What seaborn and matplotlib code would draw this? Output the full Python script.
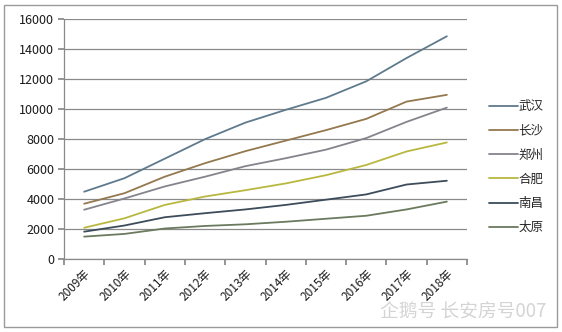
import matplotlib
matplotlib.use("Agg")
import matplotlib.pyplot as plt
import seaborn as sns
import pandas as pd
from matplotlib.patches import Rectangle

years = ["2009年", "2010年", "2011年", "2012年", "2013年", "2014年", "2015年", "2016年", "2017年", "2018年"]
cities = ["武汉", "长沙", "郑州", "合肥", "南昌", "太原"]
wuhan = [4500, 5400, 6700, 8000, 9100, 9950, 10750, 11850, 13400, 14850]
changsha = [3700, 4400, 5500, 6400, 7200, 7900, 8600, 9350, 10500, 10950]
zhengzhou = [3300, 4050, 4850, 5500, 6200, 6730, 7300, 8070, 9150, 10100]
hefei = [2100, 2730, 3620, 4180, 4600, 5050, 5600, 6280, 7180, 7780]
nanchang = [1840, 2250, 2800, 3070, 3320, 3620, 3970, 4320, 4980, 5230]
taiyuan = [1510, 1690, 2050, 2220, 2330, 2500, 2700, 2900, 3320, 3840]
series = [wuhan, changsha, zhengzhou, hefei, nanchang, taiyuan]
colors = ["#5f7a8c", "#94784f", "#84848c", "#b8b840", "#3c4c5a", "#6b7a5e"]

rows = []
for c, vals in zip(cities, series):
    for i, v in enumerate(vals):
        rows.append({"idx": i, "value": v, "city": c})
df = pd.DataFrame(rows)

sns.set_theme(style="white")
plt.rcParams["font.family"] = ["Noto Sans CJK SC", "DejaVu Sans"]

fig = plt.figure(figsize=(5.62, 3.32), dpi=100)
ax = fig.add_axes([64/562, 1-259.3/332, (467-64)/562, (259.3-19)/332])

sns.lineplot(data=df, x="idx", y="value", hue="city", hue_order=cities,
             palette=colors, linewidth=1.3, ax=ax, legend=False)

ax.set_xlim(-0.5, 9.5)
ax.set_ylim(0, 16000)
ax.set_yticks(range(0, 16001, 2000))
ax.set_yticklabels([str(v) for v in range(0, 16001, 2000)], fontsize=9, color="#1a1a1a")
ax.set_xticks([i - 0.5 for i in range(11)])
ax.set_xticklabels([])
ax.set_xticks(range(10), minor=True)
ax.set_xticklabels(years, minor=True, rotation=45, ha="right", va="top",
                   rotation_mode="anchor", fontsize=8.5, color="#1a1a1a")
ax.tick_params(axis="x", which="major", length=4, color="#888888", direction="out", bottom=True)
ax.tick_params(axis="x", which="minor", length=0, pad=6)
ax.tick_params(axis="y", length=4, color="#888888", direction="out", left=True, pad=3)
ax.set_xlabel("")
ax.set_ylabel("")
ax.grid(axis="y", color="#8a8a8a", linewidth=0.9)
ax.set_axisbelow(True)
for s in ["top", "right"]:
    ax.spines[s].set_visible(False)
for s in ["left", "bottom"]:
    ax.spines[s].set_color("#8a8a8a")
    ax.spines[s].set_linewidth(0.9)

# legend
handles = [plt.Line2D([], [], color=col, linewidth=1.3) for col in colors]
fig.legend(handles, cities, loc="upper left", bbox_to_anchor=(484/562, 1-95/332),
           frameon=False, fontsize=9, handlelength=2.3, handletextpad=0.05,
           labelspacing=0.9, borderaxespad=0)

# outer frame
fig.patches.append(Rectangle((4/562, 5/332), 553/562, 322/332, transform=fig.transFigure,
                             fill=False, edgecolor="#9a9a9a", linewidth=1.0))

fig.text(546/562, 1-312/332, "企鹅号 长安房号007", ha="right", va="center",
         fontsize=13.5, color="#d4d4d4")

fig.savefig("out.png", dpi=100)
